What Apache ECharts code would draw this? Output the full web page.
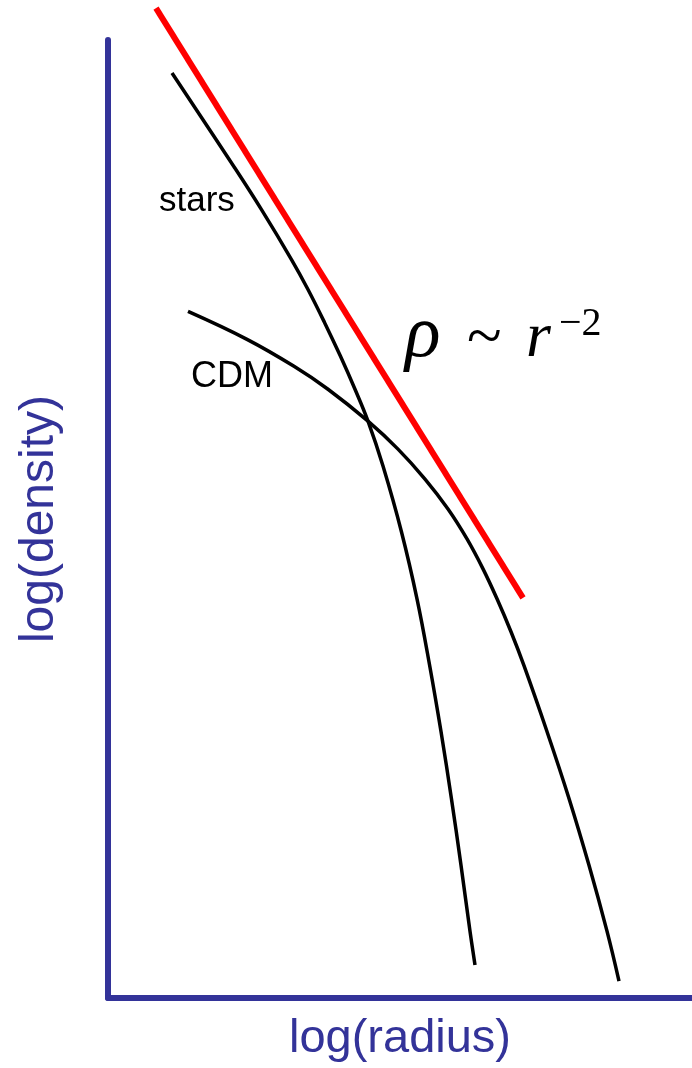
<!DOCTYPE html>
<html>
<head>
<meta charset="utf-8">
<script src="https://cdn.jsdelivr.net/npm/echarts@6/dist/echarts.min.js"></script>
<style>
  html, body { margin: 0; padding: 0; background: #ffffff; }
  #chart { width: 692px; height: 1068px; }
</style>
</head>
<body>
<div id="chart"></div>
<script>
// Schematic density profiles in log–log space (arbitrary units)
const starsLogR   = [0.64, 1.26, 1.535, 1.835, 2.00, 2.165, 2.325, 2.47, 2.60, 2.75, 2.935, 3.09, 3.217, 3.33, 3.434, 3.53, 3.62, 3.67];
const starsLogRho = [9.27, 8.33, 7.90, 7.40, 7.10, 6.77, 6.43, 6.10, 5.78, 5.33, 4.67, 4.00, 3.33, 2.67, 2.00, 1.33, 0.67, 0.33];

const cdmLogR   = [0.80, 1.39, 1.86, 2.20, 2.60, 2.90, 3.17, 3.40, 3.59, 3.75, 3.89, 4.03, 4.16, 4.39, 4.61, 4.81, 4.99, 5.11];
const cdmLogRho = [6.88, 6.60, 6.33, 6.10, 5.78, 5.50, 5.20, 4.90, 4.60, 4.30, 4.00, 3.67, 3.33, 2.67, 2.00, 1.33, 0.67, 0.17];

// Isothermal reference slope, rho ~ r^-2
const isoLogR   = [0.48, 4.15];
const isoLogRho = [9.92, 4.01];

const axisNames = ['log(radius)', 'log(density)'];

const pairs = (xs, ys) => xs.map((x, i) => [x, ys[i]]);

const AXIS_BLUE = '#333399';
const SANS = "'Liberation Sans', Arial, Helvetica, sans-serif";
const SERIF = "'Liberation Serif', 'Times New Roman', serif";

const chart = echarts.init(document.getElementById('chart'), null, { renderer: 'canvas' });

chart.setOption({
  animation: false,
  backgroundColor: '#ffffff',
  grid: { left: 108, right: 0, top: 40, bottom: 68, containLabel: false },
  xAxis: {
    type: 'value', min: 0, max: 5.84,
    name: axisNames[0], nameLocation: 'middle', nameGap: 18,
    nameTextStyle: { color: AXIS_BLUE, fontSize: 47, fontFamily: SANS },
    axisLine: { show: true, onZero: false, lineStyle: { color: AXIS_BLUE, width: 6 } },
    axisTick: { show: false }, axisLabel: { show: false }, splitLine: { show: false }
  },
  yAxis: {
    type: 'value', min: 0, max: 9.6,
    name: axisNames[1], nameLocation: 'middle', nameGap: 44, nameRotate: 90,
    nameTextStyle: { color: AXIS_BLUE, fontSize: 48, fontFamily: SANS },
    axisLine: { show: true, onZero: false, lineStyle: { color: AXIS_BLUE, width: 6 } },
    axisTick: { show: false }, axisLabel: { show: false }, splitLine: { show: false }
  },
  series: [
    {
      name: 'r^-2', type: 'line', data: pairs(isoLogR, isoLogRho),
      symbol: 'none', clip: false, silent: true,
      lineStyle: { color: '#ff0000', width: 6 }
    },
    {
      name: 'stars', type: 'line', data: pairs(starsLogR, starsLogRho),
      symbol: 'none', smooth: 0.4, clip: false, silent: true,
      lineStyle: { color: '#000000', width: 3.5 }
    },
    {
      name: 'CDM', type: 'line', data: pairs(cdmLogR, cdmLogRho),
      symbol: 'none', smooth: 0.4, clip: false, silent: true,
      lineStyle: { color: '#000000', width: 3.5 }
    }
  ],
  graphic: [
    { type: 'text', x: 159, y: 201, style: { text: 'stars', fill: '#000', font: `35px ${SANS}`, textAlign: 'left', verticalAlign: 'middle' } },
    { type: 'text', x: 191, y: 377, style: { text: 'CDM', fill: '#000', font: `36px ${SANS}`, textAlign: 'left', verticalAlign: 'middle' } },
    // rho ~ r^-2
    { type: 'text', x: 405, y: 337, style: { text: 'ρ', fill: '#000', font: `italic 74px ${SERIF}`, textAlign: 'left', verticalAlign: 'middle' } },
    { type: 'text', x: 467, y: 340, style: { text: '~', fill: '#000', font: `64px ${SERIF}`, textAlign: 'left', verticalAlign: 'middle' } },
    { type: 'text', x: 526, y: 339, style: { text: 'r', fill: '#000', font: `italic 64px ${SERIF}`, textAlign: 'left', verticalAlign: 'middle' } },
    { type: 'text', x: 559, y: 324, style: { text: '−2', fill: '#000', font: `40px ${SERIF}`, textAlign: 'left', verticalAlign: 'middle' } }
  ]
});
</script>
</body>
</html>
